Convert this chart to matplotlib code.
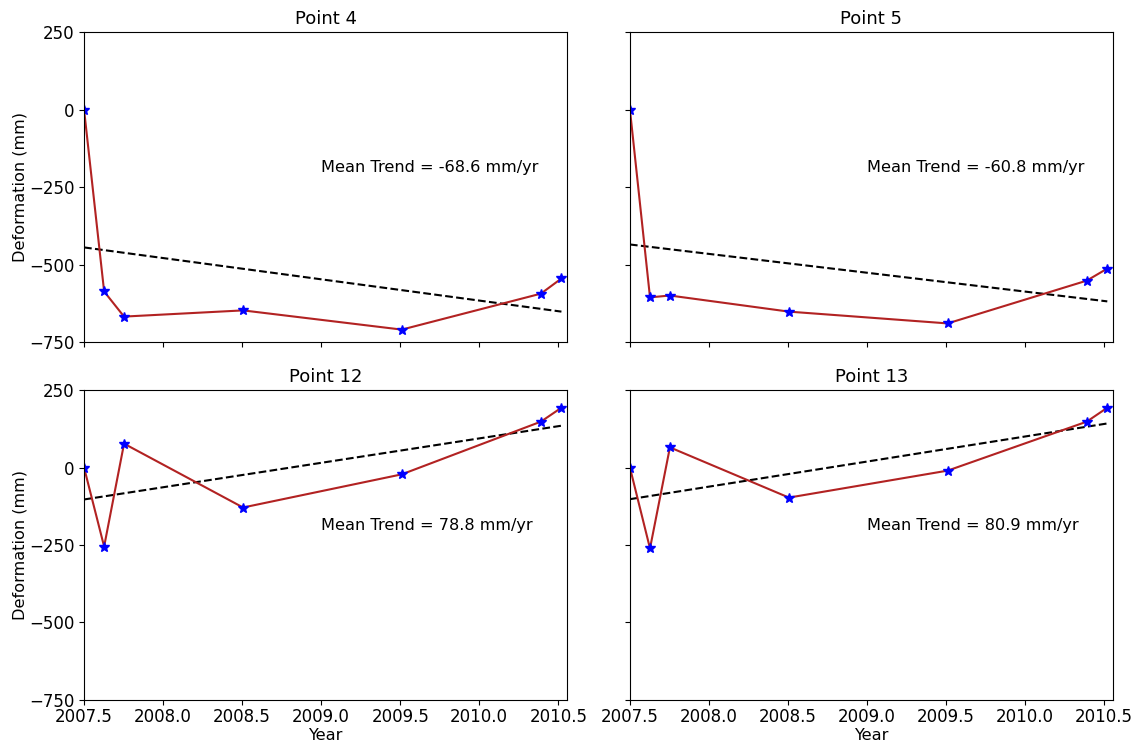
import matplotlib
matplotlib.use('Agg')
import matplotlib.pyplot as plt
import numpy as np

# acquisition dates (decimal year)
years = [2007.50, 2007.627, 2007.753, 2008.506, 2009.51, 2010.39, 2010.52]

# cumulative deformation (mm) per point
names = ['Point 4', 'Point 5', 'Point 12', 'Point 13']
defo_p4 = [0, -587, -668, -648, -710, -594, -545]
defo_p5 = [0, -606, -600, -652, -690, -552, -513]
defo_p12 = [0, -255, 77, -129, -22, 148, 193]
defo_p13 = [0, -261, 65, -97, -10, 148, 193]
# mean linear trend (mm/yr)
trends = [-68.6, -60.8, 78.8, 80.9]

series = [defo_p4, defo_p5, defo_p12, defo_p13]

fig, axes = plt.subplots(2, 2, figsize=(11.42, 7.46), dpi=100,
                         sharex=True, sharey=True)
plt.subplots_adjust(left=0.0736, right=0.9746, top=0.957, bottom=0.0617,
                    wspace=0.13, hspace=0.155)

t = np.array(years)
for ax, name, d, slope in zip(axes.flat, names, series, trends):
    d = np.array(d)
    # trend line through the mean with the given slope
    fit = d.mean() + slope * (t - t.mean())
    ax.plot(t, fit, 'k--', lw=1.5)
    ax.plot(t, d, color='firebrick', lw=1.5, marker='*', ms=7,
            mfc='blue', mec='blue')
    ax.text(2009.0, -200, 'Mean Trend = %.1f mm/yr' % slope, fontsize=11.6)
    ax.set_title(name, fontsize=13)
    ax.tick_params(labelsize=12)
    ax.tick_params(axis='x', pad=2.5)

ax = axes[0, 0]
ax.set_xlim(2007.5, 2010.556)
ax.set_ylim(-750, 250)
ax.set_yticks([-750, -500, -250, 0, 250])
ax.set_xticks(np.arange(2007.5, 2010.51, 0.5))
ax.set_xticklabels(['%.1f' % v for v in np.arange(2007.5, 2010.51, 0.5)])

for a in axes[:, 0]:
    a.set_ylabel('Deformation (mm)', fontsize=11.6, labelpad=1)
for a in axes[1, :]:
    a.set_xlabel('Year', fontsize=11.6, labelpad=1.5)

fig.savefig('out.png')
